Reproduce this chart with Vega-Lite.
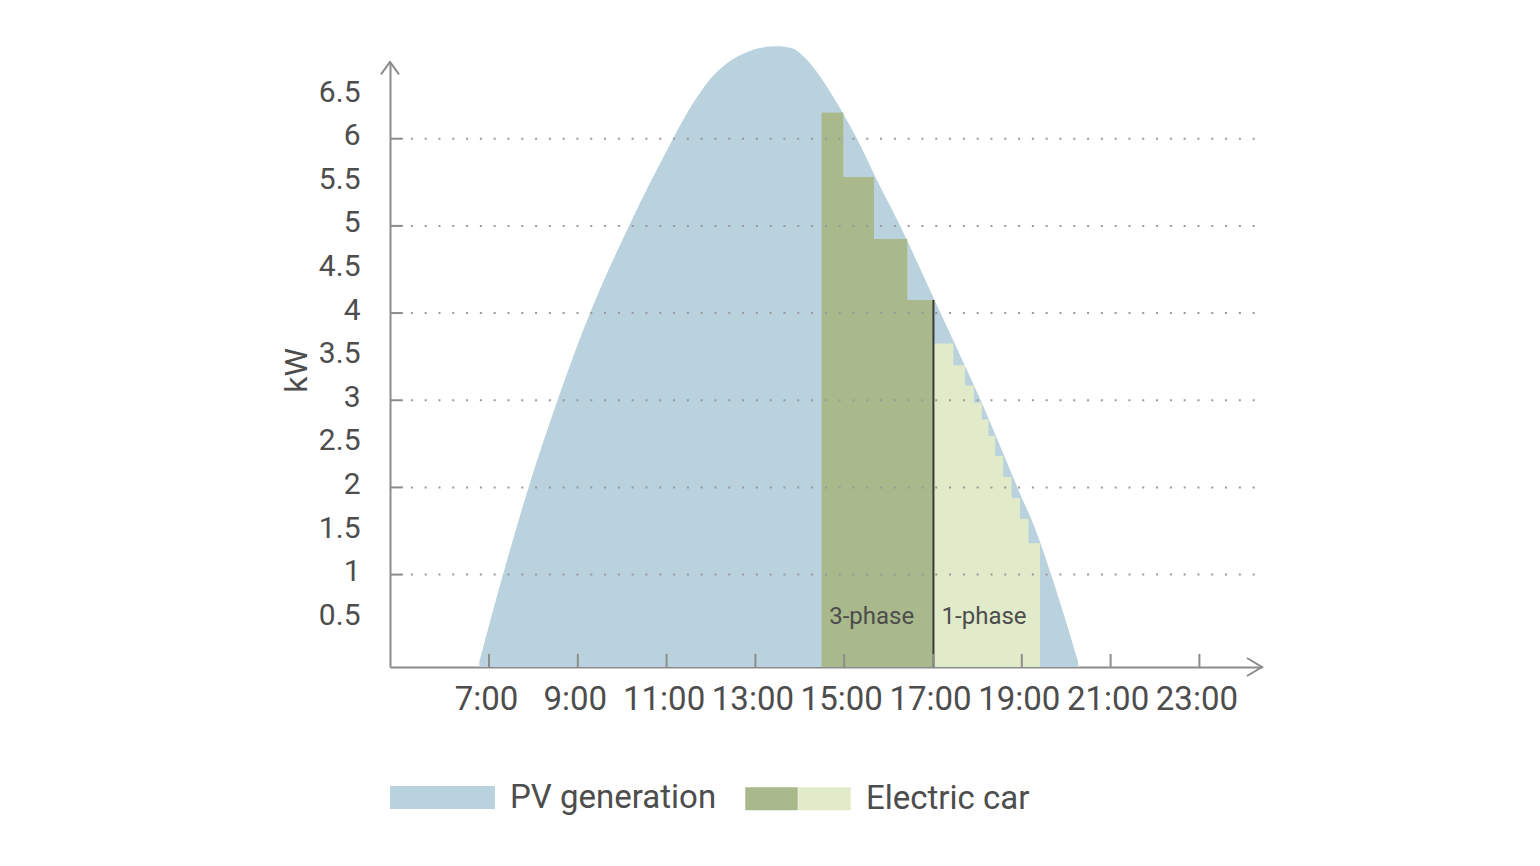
{
  "$schema": "https://vega.github.io/schema/vega-lite/v6.json",
  "width": 872,
  "height": 605,
  "autosize": {"type": "none"},
  "padding": {"left": 390, "top": 62, "right": 278, "bottom": 199},
  "background": "white",
  "config": {"view": {"stroke": null}, "font": "Roboto"},
  "datasets": {
    "pv": [
      {"t": 6.782, "kw": 0, "series": "PV generation"},
      {"t": 7.315, "kw": 1, "series": "PV generation"},
      {"t": 7.89, "kw": 2, "series": "PV generation"},
      {"t": 8.543, "kw": 3, "series": "PV generation"},
      {"t": 9.275, "kw": 4, "series": "PV generation"},
      {"t": 10.153, "kw": 5, "series": "PV generation"},
      {"t": 11.144, "kw": 6, "series": "PV generation"},
      {"t": 11.365, "kw": 6.21, "series": "PV generation"},
      {"t": 11.572, "kw": 6.39, "series": "PV generation"},
      {"t": 11.796, "kw": 6.56, "series": "PV generation"},
      {"t": 12.066, "kw": 6.73, "series": "PV generation"},
      {"t": 12.399, "kw": 6.88, "series": "PV generation"},
      {"t": 12.756, "kw": 6.98, "series": "PV generation"},
      {"t": 13.089, "kw": 7.04, "series": "PV generation"},
      {"t": 13.47, "kw": 7.06, "series": "PV generation"},
      {"t": 13.81, "kw": 7.04, "series": "PV generation"},
      {"t": 14.005, "kw": 6.98, "series": "PV generation"},
      {"t": 14.207, "kw": 6.88, "series": "PV generation"},
      {"t": 14.432, "kw": 6.73, "series": "PV generation"},
      {"t": 14.658, "kw": 6.56, "series": "PV generation"},
      {"t": 14.86, "kw": 6.39, "series": "PV generation"},
      {"t": 15.063, "kw": 6.21, "series": "PV generation"},
      {"t": 15.288, "kw": 6.0, "series": "PV generation"},
      {"t": 15.761, "kw": 5.5, "series": "PV generation"},
      {"t": 16.261, "kw": 5.0, "series": "PV generation"},
      {"t": 16.72, "kw": 4.5, "series": "PV generation"},
      {"t": 17.17, "kw": 4.0, "series": "PV generation"},
      {"t": 17.625, "kw": 3.5, "series": "PV generation"},
      {"t": 18.075, "kw": 3.0, "series": "PV generation"},
      {"t": 18.49, "kw": 2.5, "series": "PV generation"},
      {"t": 18.9, "kw": 2.0, "series": "PV generation"},
      {"t": 19.32, "kw": 1.5, "series": "PV generation"},
      {"t": 19.658, "kw": 1.0, "series": "PV generation"},
      {"t": 19.973, "kw": 0.5, "series": "PV generation"},
      {"t": 20.266, "kw": 0, "series": "PV generation"}
    ],
    "steps": [
      {"t": 14.49, "kw": 6.3, "phase": "3-phase"},
      {"t": 14.98, "kw": 5.56, "phase": "3-phase"},
      {"t": 15.67, "kw": 4.85, "phase": "3-phase"},
      {"t": 16.42, "kw": 4.15, "phase": "3-phase"},
      {"t": 17.01, "kw": 4.15, "phase": "3-phase"},
      {"t": 17.01, "kw": 3.65, "phase": "1-phase"},
      {"t": 17.46, "kw": 3.4, "phase": "1-phase"},
      {"t": 17.72, "kw": 3.17, "phase": "1-phase"},
      {"t": 17.92, "kw": 2.97, "phase": "1-phase"},
      {"t": 18.1, "kw": 2.78, "phase": "1-phase"},
      {"t": 18.25, "kw": 2.59, "phase": "1-phase"},
      {"t": 18.4, "kw": 2.36, "phase": "1-phase"},
      {"t": 18.58, "kw": 2.12, "phase": "1-phase"},
      {"t": 18.77, "kw": 1.88, "phase": "1-phase"},
      {"t": 18.96, "kw": 1.64, "phase": "1-phase"},
      {"t": 19.15, "kw": 1.36, "phase": "1-phase"},
      {"t": 19.41, "kw": 1.36, "phase": "1-phase"}
    ],
    "labels": [
      {"t": 15.62, "kw": 0.51, "label": "3-phase"},
      {"t": 18.15, "kw": 0.51, "label": "1-phase"}
    ],
    "grid": [{"kw": 1}, {"kw": 2}, {"kw": 3}, {"kw": 4}, {"kw": 5}, {"kw": 6}],
    "xticks": [{"t": 7}, {"t": 9}, {"t": 11}, {"t": 13}, {"t": 15}, {"t": 17}, {"t": 19}, {"t": 21}, {"t": 23}],
    "one": [{"a": 1}]
  },
  "layer": [
    {
      "data": {"name": "pv"},
      "mark": {"type": "area", "interpolate": "monotone", "opacity": 1},
      "encoding": {
        "x": {
          "field": "t", "type": "quantitative",
          "scale": {"domain": [4.77, 24.41], "nice": false, "zero": false},
          "axis": {
            "values": [7, 9, 11, 13, 15, 17, 19, 21, 23],
            "labelExpr": "datum.value + ':00'",
            "ticks": false, "tickSize": 0, "grid": false,
            "domainColor": "#8c8c8c", "domainWidth": 2,
            "labelFont": "Roboto", "labelFontSize": 33, "labelColor": "#4d4d4d",
            "labelPadding": 42, "labelOffset": -3, "labelBaseline": "alphabetic",
            "labelOverlap": false, "labelFlush": false, "title": null
          }
        },
        "y": {
          "field": "kw", "type": "quantitative",
          "scale": {"domain": [-0.06, 6.88], "nice": false, "zero": false},
          "axis": {
            "values": [0.5, 1, 1.5, 2, 2.5, 3, 3.5, 4, 4.5, 5, 5.5, 6, 6.5],
            "labelExpr": "'' + datum.value",
            "ticks": false, "tickSize": 0, "grid": false,
            "domainColor": "#8c8c8c", "domainWidth": 2,
            "labelFont": "Roboto", "labelFontSize": 30, "labelColor": "#4d4d4d",
            "labelPadding": 30, "labelOffset": -3, "labelBaseline": "middle", "labelOverlap": false,
            "title": "kW", "titleFont": "Roboto", "titleFontSize": 32,
            "titleFontWeight": "normal", "titleColor": "#4d4d4d",
            "titleX": -94, "titleY": 308, "titleAngle": 270,
            "titleAlign": "center", "titleBaseline": "middle"
          }
        },
        "y2": {"datum": -0.06},
        "color": {
          "field": "series", "type": "nominal",
          "scale": {"domain": ["PV generation"], "range": ["#b9d2dd"]},
          "legend": {
            "title": null, "orient": "none", "legendX": 0, "legendY": 683,
            "direction": "horizontal",
            "symbolType": "M-1,-0.219H1V0.219H-1Z", "symbolSize": 11025,
            "symbolStrokeWidth": 0, "symbolOpacity": 1,
            "labelFont": "Roboto", "labelFontSize": 33, "labelColor": "#4d4d4d",
            "labelOffset": 15, "labelLimit": 500
          }
        }
      }
    },
    {
      "data": {"name": "steps"},
      "mark": {"type": "area", "interpolate": "step-after", "opacity": 1},
      "encoding": {
        "x": {"field": "t", "type": "quantitative", "scale": {"domain": [4.77, 24.41], "nice": false, "zero": false}},
        "y": {"field": "kw", "type": "quantitative", "stack": null, "scale": {"domain": [-0.06, 6.88], "nice": false, "zero": false}},
        "y2": {"datum": -0.06},
        "fill": {
          "field": "phase", "type": "nominal",
          "scale": {"domain": ["3-phase", "1-phase"], "range": ["#a9b98c", "#e2ebc9"]},
          "legend": {
            "title": null, "orient": "none", "legendX": 355, "legendY": 710,
            "direction": "horizontal",
            "symbolType": "M-1,-0.438H1V0.438H-1Z", "symbolSize": 2756.25,
            "symbolStrokeWidth": 0, "symbolOpacity": 1,
            "labelExpr": "datum.value === '1-phase' ? 'Electric car' : ''",
            "labelFont": "Roboto", "labelFontSize": 33, "labelColor": "#4d4d4d",
            "labelOffset": 0, "labelLimit": 500, "columnPadding": 0,
            "encode": {"labels": {"update": {"dx": {"signal": "datum.value === '1-phase' ? 15 : 0"}}}}
          }
        }
      }
    },
    {
      "data": {"name": "one"},
      "mark": {"type": "rule", "color": "#3a3a3a", "strokeWidth": 2},
      "encoding": {
        "x": {"datum": 17.01, "type": "quantitative", "scale": {"domain": [4.77, 24.41], "nice": false, "zero": false}},
        "y": {"datum": -0.06, "type": "quantitative", "scale": {"domain": [-0.06, 6.88], "nice": false, "zero": false}},
        "y2": {"datum": 4.15}
      }
    },
    {
      "data": {"name": "labels"},
      "mark": {"type": "text", "font": "Roboto", "fontSize": 24, "color": "#4d4d4d", "align": "center", "baseline": "middle"},
      "encoding": {
        "x": {"field": "t", "type": "quantitative", "scale": {"domain": [4.77, 24.41], "nice": false, "zero": false}},
        "y": {"field": "kw", "type": "quantitative", "scale": {"domain": [-0.06, 6.88], "nice": false, "zero": false}},
        "text": {"field": "label"}
      }
    },
    {
      "data": {"name": "grid"},
      "mark": {"type": "rule", "color": "#999999", "strokeWidth": 2, "strokeDash": [2, 11.8]},
      "encoding": {
        "x": {"datum": 5.24, "type": "quantitative", "scale": {"domain": [4.77, 24.41], "nice": false, "zero": false}},
        "x2": {"datum": 24.41},
        "y": {"field": "kw", "type": "quantitative", "scale": {"domain": [-0.06, 6.88], "nice": false, "zero": false}}
      }
    },
    {
      "data": {"name": "grid"},
      "mark": {"type": "rule", "color": "#8c8c8c", "strokeWidth": 2},
      "encoding": {
        "x": {"datum": 4.77, "type": "quantitative", "scale": {"domain": [4.77, 24.41], "nice": false, "zero": false}},
        "x2": {"datum": 5.06},
        "y": {"field": "kw", "type": "quantitative", "scale": {"domain": [-0.06, 6.88], "nice": false, "zero": false}}
      }
    },
    {
      "data": {"name": "xticks"},
      "mark": {"type": "rule", "color": "#8c8c8c", "strokeWidth": 2},
      "encoding": {
        "x": {"field": "t", "type": "quantitative", "scale": {"domain": [4.77, 24.41], "nice": false, "zero": false}},
        "y": {"datum": -0.06, "type": "quantitative", "scale": {"domain": [-0.06, 6.88], "nice": false, "zero": false}},
        "y2": {"datum": 0.09}
      }
    },
    {
      "data": {"name": "one"},
      "mark": {"type": "point", "shape": "M-1.67,-1L0,0L-1.67,1", "size": 324, "filled": false, "stroke": "#8c8c8c", "strokeWidth": 2, "opacity": 1},
      "encoding": {
        "x": {"datum": 24.41, "type": "quantitative", "scale": {"domain": [4.77, 24.41], "nice": false, "zero": false}},
        "y": {"datum": -0.06, "type": "quantitative", "scale": {"domain": [-0.06, 6.88], "nice": false, "zero": false}}
      }
    },
    {
      "data": {"name": "one"},
      "mark": {"type": "point", "shape": "M-1,1.37L0,0L1,1.37", "size": 324, "filled": false, "stroke": "#8c8c8c", "strokeWidth": 2, "opacity": 1},
      "encoding": {
        "x": {"datum": 4.77, "type": "quantitative", "scale": {"domain": [4.77, 24.41], "nice": false, "zero": false}},
        "y": {"datum": 6.88, "type": "quantitative", "scale": {"domain": [-0.06, 6.88], "nice": false, "zero": false}}
      }
    }
  ]
}
